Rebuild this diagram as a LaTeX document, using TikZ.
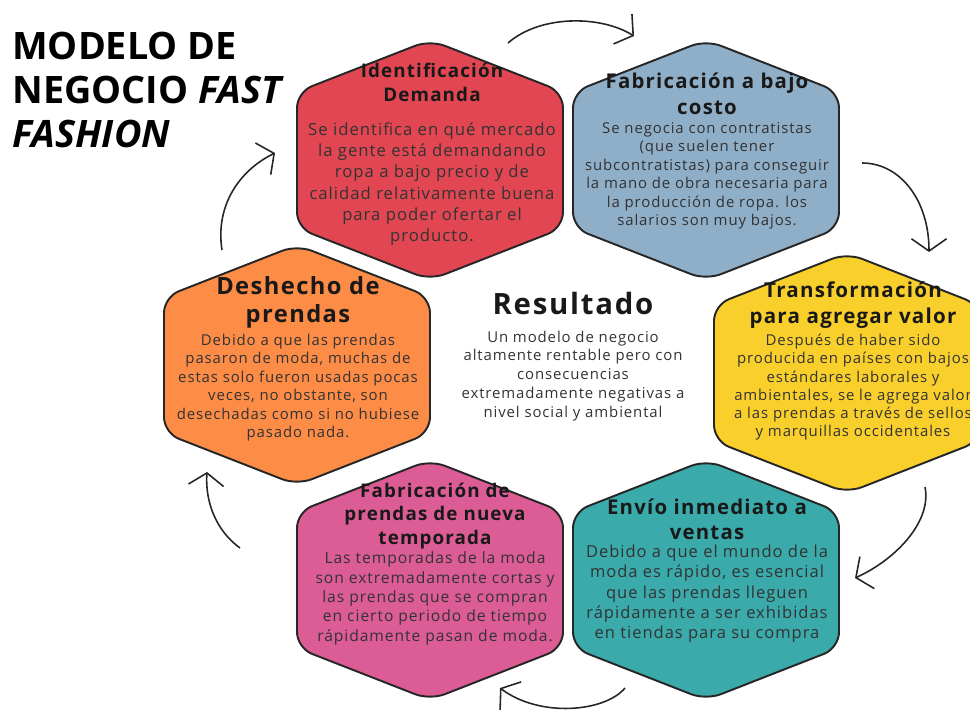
\documentclass[tikz,border=0pt]{standalone}
\usepackage{fontspec}
\setmainfont{Open Sans}
\newfontfamily\hexfont[LetterSpace=6]{Open Sans}
\usetikzlibrary{positioning, arrows.meta}

\definecolor{hexred}{HTML}{E14652}
\definecolor{hexblue}{HTML}{8FAEC7}
\definecolor{hexyellow}{HTML}{F9CF2C}
\definecolor{hexteal}{HTML}{3AAAAA}
\definecolor{hexpink}{HTML}{DC5C96}
\definecolor{hexorange}{HTML}{FC8C46}

\begin{document}
\begin{tikzpicture}[x=0.02cm, y=-0.02cm, >={Straight Barb[length=7pt, width=20pt]},
    hexline/.style={draw=black!85, line width=1.1pt, rounded corners=9pt},
    ttl/.style={align=center, inner sep=0pt, text=black!90},
    body/.style={align=center, inner sep=0pt, text=black!80},
    cycarrow/.style={->, line width=0.9pt, black!85}]
    \useasboundingbox (0,0) rectangle (970,716);

    % Hexagons
    \foreach \nm/\hx/\hy/\col in {dem/430/160/hexred, fab/706/160/hexblue, val/847/373/hexyellow,
        env/706/580/hexteal, tem/430/580/hexpink, des/297/365/hexorange}{
        \coordinate (\nm) at (\hx,\hy);
        \draw[hexline, fill=\col] (\hx-133,\hy-68) -- (\hx,\hy-120) -- (\hx+133,\hy-68)
            -- (\hx+133,\hy+68) -- (\hx,\hy+120) -- (\hx-133,\hy+68) -- cycle;
    }

    % Title
    \node (title) [anchor=north west, align=left, inner sep=0pt, font=\fontsize{21.5}{25}\selectfont\bfseries] at (12,32)
        {MODELO DE\\NEGOCIO \textit{FAST}\\\textit{FASHION}};

    % Identificacion
    \node (demT) [ttl, font=\hexfont\fontsize{10.7}{13.6}\selectfont\bfseries] at (432,82) {Identificación\\Demanda};
    \node (demB) [body, below=12pt of demT, font=\hexfont\fontsize{9.5}{12}\selectfont]
        {Se identifica en qué mercado\\la gente está demandando\\ropa a bajo precio y de\\calidad relativamente buena\\para poder ofertar el\\producto.};

    % Fabricacion
    \node (fabT) [ttl, font=\hexfont\fontsize{11.6}{14.5}\selectfont\bfseries] at (707,94) {Fabricación a bajo\\costo};
    \node (fabB) [body, below=4pt of fabT, font=\hexfont\fontsize{8.5}{10.5}\selectfont]
        {Se negocia con contratistas\\(que suelen tener\\subcontratistas) para conseguir\\la mano de obra necesaria para\\la producción de ropa. los\\salarios son muy bajos.};

    % Transformacion
    \node (valT) [ttl, font=\hexfont\fontsize{11.7}{14.5}\selectfont\bfseries] at (853,305) {Transformación\\para agregar valor};
    \node (valB) [body, below=3pt of valT, font=\hexfont\fontsize{8.5}{10.4}\selectfont]
        {Después de haber sido\\producida en países con bajos\\estándares laborales y\\ambientales, se le agrega valor\\a las prendas a través de sellos\\y marquillas occidentales};

    % Envio
    \node (envT) [ttl, font=\hexfont\fontsize{11.6}{14}\selectfont\bfseries] at (707,519) {Envío inmediato a\\ventas};
    \node (envB) [body, below=3pt of envT, font=\hexfont\fontsize{9.4}{11.5}\selectfont]
        {Debido a que el mundo de la\\moda es rápido, es esencial\\que las prendas lleguen\\rápidamente a ser exhibidas\\en tiendas para su compra};

    % Temporada
    \node (temT) [ttl, font=\hexfont\fontsize{10.7}{13.6}\selectfont\bfseries] at (435,516) {Fabricación de\\prendas de nueva\\temporada};
    \node (temB) [body, below=1pt of temT, font=\hexfont\fontsize{8.9}{11}\selectfont]
        {Las temporadas de la moda\\son extremadamente cortas y\\las prendas que se compran\\en cierto periodo de tiempo\\rápidamente pasan de moda.};

    % Deshecho
    \node (desT) [ttl, font=\hexfont\fontsize{13.5}{16}\selectfont\bfseries] at (298,302) {Deshecho de\\prendas};
    \node (desB) [body, below=3pt of desT, font=\hexfont\fontsize{8.5}{10.5}\selectfont]
        {Debido a que las prendas\\pasaron de moda, muchas de\\estas solo fueron usadas pocas\\veces, no obstante, son\\desechadas como si no hubiese\\pasado nada.};

    % Resultado
    \node (resT) [ttl, font=\hexfont\fontsize{16.7}{19}\selectfont\bfseries] at (573,303) {Resultado};
    \node (resB) [body, below=9pt of resT, font=\hexfont\fontsize{8.5}{10.7}\selectfont]
        {Un modelo de negocio\\altamente rentable pero con\\consecuencias\\extremadamente negativas a\\nivel social y ambiental};

    % Cycle arrows
    \coordinate (a1s) at (508,43);  \coordinate (a1e) at (634,36);
    \coordinate (a2s) at (862,163); \coordinate (a2e) at (929,252);
    \coordinate (a3s) at (925,487); \coordinate (a3e) at (855,578);
    \coordinate (a4s) at (625,688); \coordinate (a4e) at (500,688);
    \coordinate (a5s) at (240,548); \coordinate (a5e) at (207,472);
    \coordinate (a6s) at (222,250); \coordinate (a6e) at (275,153);
    \draw[cycarrow] (a1s) .. controls (540,15) and (600,15) .. (a1e);
    \draw[cycarrow] (a2s) .. controls (900,163) and (929,200) .. (a2e);
    \draw[cycarrow] (a3s) .. controls (932,522) and (895,560) .. (a3e);
    \draw[cycarrow] (a4s) .. controls (605,712) and (540,718) .. (a4e);
    \draw[cycarrow] (a5s) .. controls (215,530) and (205,500) .. (a5e);
    \draw[cycarrow] (a6s) .. controls (215,205) and (240,170) .. (a6e);
\end{tikzpicture}
\end{document}
